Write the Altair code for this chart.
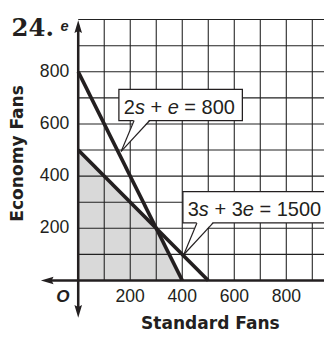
import altair as alt
import pandas as pd

# ---------------- data ----------------
tick_values = [200, 400, 600, 800]
grid_values = [100, 200, 300, 400, 500, 600, 700, 800, 900, 1000]
line1_s = [0, 400]          # 2s + e = 800
line1_e = [800, 0]
line2_s = [0, 500]          # 3s + 3e = 1500
line2_e = [500, 0]
region_s = [0, 300, 400]    # feasible region boundary
region_e = [500, 200, 0]
label1_parts = ["2", "s", " + ", "e", " = 800"]
label1_italic = [False, True, False, True, False]
label2_parts = ["3", "s", " + 3", "e", " = 1500"]
label2_italic = [False, True, False, True, False]
x_title = "Standard Fans"
y_title = "Economy Fans"
problem_number = "24."
x_var = "e"
origin_label = "O"

# ---------------- layout ----------------
W, H = 324, 325
XDOM = [-270, 945]
YDOM = [-186, 1029]
PX_X = W / (XDOM[1] - XDOM[0])
PX_Y = H / (YDOM[1] - YDOM[0])
X0_PAGE, Y0_PAGE = 80.0, 283.3


def ds(px):  # page x -> data s
    return (px - X0_PAGE) / PX_X


def de(py):  # page y -> data e
    return (Y0_PAGE - py) / PX_Y


xs = alt.Scale(domain=XDOM, nice=False, zero=False)
ys = alt.Scale(domain=YDOM, nice=False, zero=False)


def X(f):
    return alt.X(f, type="quantitative", scale=xs, axis=None)


def Y(f):
    return alt.Y(f, type="quantitative", scale=ys, axis=None)


INK = "#231f20"

# shaded region
shade = alt.Chart(pd.DataFrame({"s": region_s, "e": region_e})).mark_area(
    color="#d9d9d9", opacity=1
).encode(x=X("s"), y=Y("e"), y2=alt.datum(0))

# grid
gv = pd.DataFrame({"x": grid_values[:-1], "y": 0, "y2": 1000})
gh = pd.DataFrame({"y": grid_values, "x": 0, "x2": XDOM[1]})
grid_v = alt.Chart(gv).mark_rule(color="#222222", strokeWidth=1.1).encode(
    x=X("x"), y=Y("y"), y2="y2:Q")
grid_h = alt.Chart(gh).mark_rule(color="#222222", strokeWidth=1.1).encode(
    y=Y("y"), x=X("x"), x2="x2:Q")

# axes lines
ax = pd.DataFrame({"x": [ds(50)], "x2": [XDOM[1]], "y": [0]})
ay = pd.DataFrame({"y": [de(312)], "y2": [de(22)], "x": [0]})
x_axis = alt.Chart(ax).mark_rule(color=INK, strokeWidth=2.6).encode(
    x=X("x"), x2="x2:Q", y=Y("y"))
y_axis = alt.Chart(ay).mark_rule(color=INK, strokeWidth=2.6).encode(
    y=Y("y"), y2="y2:Q", x=X("x"))

# arrows
arrows = pd.DataFrame({
    "x": [ds(48.2), 0, 0],
    "y": [0, de(315), de(23)],
    "k": ["left", "down", "up"],
})
left_path = "M -1 0 L 1 -0.6 L 0.7 0 L 1 0.6 Z"
down_path = "M 0 1 L -0.6 -1 L 0 -0.7 L 0.6 -1 Z"
up_path = "M 0 -1 L -0.6 1 L 0 0.7 L 0.6 1 Z"
arrow_layers = []
for k, p in [("left", left_path), ("down", down_path), ("up", up_path)]:
    arrow_layers.append(
        alt.Chart(arrows[arrows.k == k]).mark_point(
            shape=p, size=169, filled=True, color=INK, opacity=1, strokeWidth=0
        ).encode(x=X("x"), y=Y("y"))
    )

# constraint lines
cl = pd.DataFrame({
    "s": line1_s + line2_s,
    "e": line1_e + line2_e,
    "g": ["a", "a", "b", "b"],
})
constraints = alt.Chart(cl).mark_line(color=INK, strokeWidth=3.8).encode(
    x=X("s"), y=Y("e"), detail="g:N")

# callout boxes
boxes = pd.DataFrame({
    "x": [ds(121.7), ds(187.3)],
    "x2": [ds(248.3), ds(336)],
    "y": [de(87.3), de(192.3)],
    "y2": [de(119.3), de(224.3)],
})
box_layer = alt.Chart(boxes).mark_rect(fill="white", stroke=INK, strokeWidth=1.3).encode(
    x=X("x"), x2="x2:Q", y=Y("y"), y2="y2:Q")

# pointers (white fill + two sides)
pointers = [
    # base left, base right, base y, tip x, tip y (page)
    (137.3, 153.3, 119.3, 124.0, 151.0),
    (201.7, 218.3, 224.3, 188.3, 256.7),
]
fill_rows, side_rows = [], []
for i, (bl, br, by, tx, ty) in enumerate(pointers):
    fill_rows.append({"id": i, "y": de(by - 1.2), "x": ds(bl), "x2": ds(br)})
    fill_rows.append({"id": i, "y": de(ty), "x": ds(tx), "x2": ds(tx)})
    side_rows.append({"x": ds(bl), "y": de(by), "x2": ds(tx), "y2": de(ty)})
    side_rows.append({"x": ds(br), "y": de(by), "x2": ds(tx), "y2": de(ty)})
ptr_fill = alt.Chart(pd.DataFrame(fill_rows)).mark_area(
    orient="horizontal", color="white", opacity=1
).encode(y=Y("y"), x=X("x"), x2="x2:Q", detail="id:N")
ptr_sides = alt.Chart(pd.DataFrame(side_rows)).mark_rule(color=INK, strokeWidth=1.2).encode(
    x=X("x"), y=Y("y"), x2="x2:Q", y2="y2:Q")

# label texts (pieces, Arial-like metrics); spaces become offsets
WIDTHS = {" ": 0.278, "+": 0.584, "=": 0.584, "s": 0.5, "e": 0.556}
FS_LABEL = 20.5


def wpx(txt):
    return sum(WIDTHS.get(c, 0.556) for c in txt) * FS_LABEL


def pieces(parts, italics, start_px, base_py):
    rows = []
    off = 0.0
    for p, it in zip(parts, italics):
        for tok in p.split(" "):
            if tok:
                rows.append({"t": tok, "x": ds(start_px + off), "y": de(base_py), "it": it})
                off += wpx(tok)
            off += wpx(" ")
        off -= wpx(" ")
    return rows


lab = pd.DataFrame(pieces(label1_parts, label1_italic, 126.7, 112.3)
                   + pieces(label2_parts, label2_italic, 192.3, 217.3))
lab_norm = alt.Chart(lab[~lab.it]).mark_text(
    align="left", baseline="alphabetic", font="Liberation Sans", fontSize=FS_LABEL, color=INK
).encode(x=X("x"), y=Y("y"), text="t:N")
lab_it = alt.Chart(lab[lab.it]).mark_text(
    align="left", baseline="alphabetic", font="Liberation Sans", fontSize=FS_LABEL,
    fontStyle="italic", color=INK
).encode(x=X("x"), y=Y("y"), text="t:N")

# tick labels
xt = pd.DataFrame({"v": tick_values, "t": [str(v) for v in tick_values], "y": de(300.5)})
yt = pd.DataFrame({"v": tick_values, "t": [str(v) for v in tick_values], "x": ds(70.7)})
xt_layer = alt.Chart(xt).mark_text(
    align="center", baseline="middle", font="Liberation Sans", fontSize=18, color=INK
).encode(x=X("v"), y=Y("y"), text="t:N")
yt_layer = alt.Chart(yt).mark_text(
    align="right", baseline="middle", font="Liberation Sans", fontSize=18, color=INK
).encode(y=Y("v"), x=X("x"), text="t:N")

# titles and misc text
titles = pd.DataFrame({
    "t": [x_title],
    "x": [ds(215.5)],
    "y": [de(333.0)],
})
xtitle = alt.Chart(titles).mark_text(
    align="center", baseline="alphabetic", font="DejaVu Sans", fontWeight="bold",
    fontSize=17.5, color=INK
).encode(x=X("x"), y=Y("y"), text="t:N")
ytitle = alt.Chart(pd.DataFrame({"t": [y_title], "x": [ds(18.5)], "y": [de(153)]})).mark_text(
    align="center", baseline="middle", angle=270, font="DejaVu Sans", fontWeight="bold",
    fontSize=17.5, color=INK
).encode(x=X("x"), y=Y("y"), text="t:N")
num = alt.Chart(pd.DataFrame({"t": [problem_number], "x": [ds(11.7)], "y": [de(32.3)]})).mark_text(
    align="left", baseline="alphabetic", font="DejaVu Serif", fontWeight="bold",
    fontSize=25, color=INK
).encode(x=X("x"), y=Y("y"), text="t:N")
evar = alt.Chart(pd.DataFrame({"t": [x_var], "x": [ds(66)], "y": [de(22.5)]})).mark_text(
    align="center", baseline="middle", font="Liberation Sans", fontWeight="bold",
    fontStyle="italic", fontSize=15, color=INK
).encode(x=X("x"), y=Y("y"), text="t:N")
olab = alt.Chart(pd.DataFrame({"t": [origin_label], "x": [ds(64.3)], "y": [de(300)]})).mark_text(
    align="center", baseline="middle", font="Liberation Sans", fontWeight="bold",
    fontStyle="italic", fontSize=17.5, color=INK
).encode(x=X("x"), y=Y("y"), text="t:N")

chart = alt.layer(
    shade, grid_v, grid_h, x_axis, y_axis, constraints,
    box_layer, ptr_fill, ptr_sides, lab_norm, lab_it,
    xt_layer, yt_layer, xtitle, ytitle, num, evar, olab, *arrow_layers
).properties(
    width=W, height=H, autosize=alt.AutoSizeParams(type="none"), padding=0,
    background="white"
).configure_view(stroke=None)

chart.save("out.html", embed_options={"renderer": "svg", "actions": False})
